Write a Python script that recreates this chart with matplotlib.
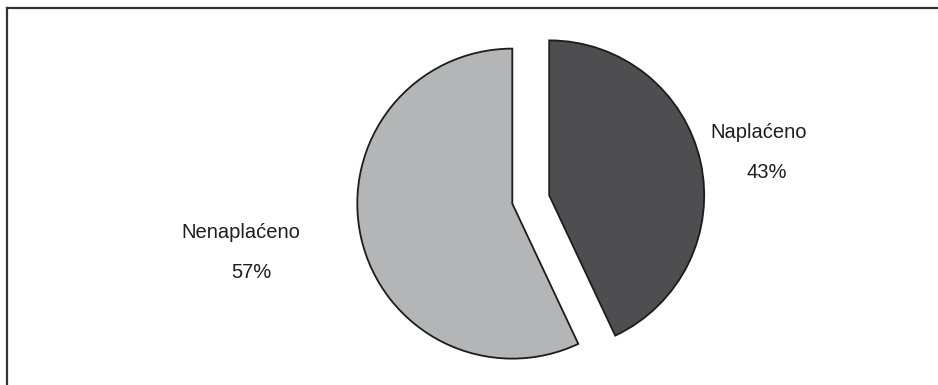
import matplotlib
matplotlib.use("Agg")
import matplotlib.pyplot as plt
from matplotlib.lines import Line2D

categories = ["Naplaćeno", "Nenaplaćeno"]
values = [43, 57]
pct_labels = ["43%", "57%"]
colors = ["#4e4e50", "#b4b5b7"]

W, H = 938, 385
fig = plt.figure(figsize=(W / 100, H / 100), dpi=100)
ax = fig.add_axes([0, 0, 1, 1])

cx, cy = 530.75, H - 199.5
radius = 155
explode_frac = 0.122
ax.pie(values, colors=colors, startangle=90, counterclock=False,
       radius=radius, center=(cx, cy),
       explode=[explode_frac * radius] * len(values),
       wedgeprops=dict(edgecolor="#1c1c1c", linewidth=1.3))
ax.set_xlim(0, W)
ax.set_ylim(0, H)
ax.set_aspect("equal")
ax.axis("off")

font = dict(family=["Liberation Sans", "DejaVu Sans"], fontsize=14.5, color="#1e1e1e",
            ha="center", va="center")
ax.text(759, H - 133, categories[0], **font)
ax.text(767, H - 172, pct_labels[0], **font)
ax.text(241, H - 233, categories[1], **font)
ax.text(251, H - 272, pct_labels[1], **font)

# partial frame (top and left edges)
fig.add_artist(Line2D([7 / W, 7 / W], [0, 1 - 8 / H], transform=fig.transFigure,
                      color="#333333", linewidth=1.6))
fig.add_artist(Line2D([7 / W, 1], [1 - 8 / H, 1 - 8 / H], transform=fig.transFigure,
                      color="#333333", linewidth=1.6))

fig.savefig("out.png", dpi=100, facecolor="white")
